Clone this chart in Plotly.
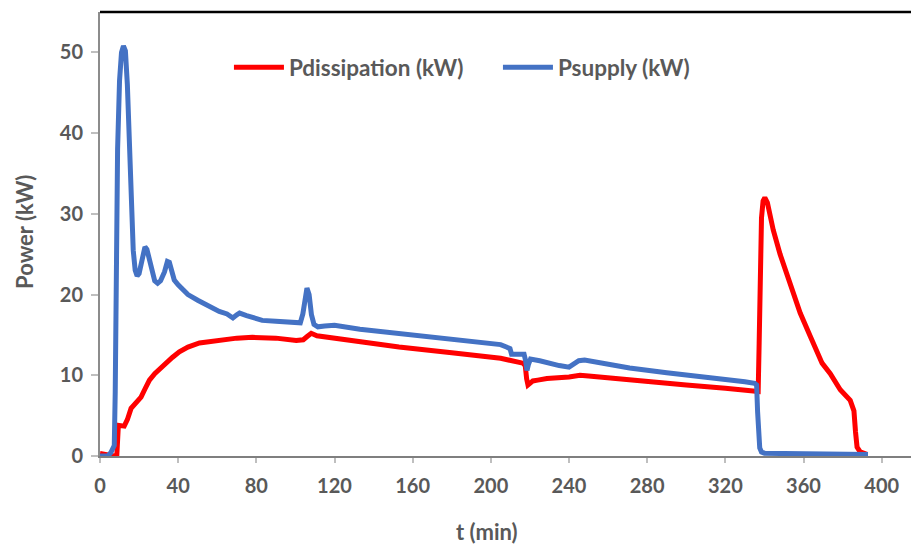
import plotly.graph_objects as go

# Psupply (kW) vs t (min)
t_supply = [0, 4, 5.5, 6.5, 7.3, 7.8, 8.3, 9, 10, 11, 12, 13, 14, 15, 16, 17, 18, 19, 20, 21, 22, 23,
            24, 25, 26, 27, 28, 29.5, 31, 33, 34.5, 35.5, 36.5, 38, 40, 45, 50, 55, 61, 65, 68, 70,
            71.4, 75, 83, 90, 101, 102.5, 103.8, 105, 105.9, 107, 108.2, 109.5, 111.5, 115, 120, 133,
            153, 179, 195, 205, 208, 209.8, 210.6, 215, 217, 217.8, 218.5, 219.3, 220.3, 225, 229,
            235, 240, 242, 245, 248, 255, 271, 290, 310, 330, 335, 336, 336.5, 337, 337.6, 338.5,
            340, 350, 360, 370, 380, 390, 393]
p_supply = [0, 0, 0.4, 1.1, 1.3, 8, 25, 38, 46.5, 50, 50.8, 50.2, 46, 39, 31, 25.5, 23, 22.3, 22.6, 24, 25.4, 25.9,
            25.6, 24.6, 23.3, 22.3, 21.7, 21.4, 21.7, 22.8, 24.1, 24.0, 22.9, 21.8, 21.2, 20.0, 19.3, 18.7, 17.9, 17.6, 17.1, 17.5,
            17.7, 17.4, 16.8, 16.7, 16.4, 16.5, 17.6, 19.8, 20.8, 20.0, 17.5, 16.3, 16.0, 16.1, 16.2, 15.7,
            15.2, 14.6, 14.1, 13.8, 13.5, 13.3, 12.6, 12.5, 12.6, 11.8, 10.6, 11.4, 12.0, 11.8, 11.5,
            11.2, 11.0, 11.3, 11.8, 11.9, 11.6, 10.9, 10.3, 9.8, 9.2, 9.0, 8.8, 5.5, 2.2, 1.0, 0.5,
            0.35, 0.3, 0.3, 0.2, 0.3, 0.3, 0.2]

# Pdissipation (kW) vs t (min)
t_diss = [0, 3, 5, 7, 8.6, 9.0, 9.4, 12.4, 14, 15.9, 18.4, 21, 23, 25.3, 28, 30.5, 33.8, 37, 40.6, 45, 50.9,
          56, 61, 70, 78, 90, 100.4, 104, 106, 108.1, 111, 120, 133, 153, 180, 195, 205, 216.4, 217.6,
          218.3, 219, 220, 221.5, 224, 228.7, 240, 245.6, 250, 271, 300, 320, 335, 336.8, 337.3, 337.8,
          338.5, 339.3, 340.2, 341.5, 343, 344.5, 348, 352.4, 355, 358.3, 363.5, 369.5, 373.7, 378.8,
          383.9, 385.8, 386.6, 387.4, 389, 391, 392.5]
p_diss = [0.3, 0.2, 0.05, 0, 0.1, 2.5, 3.8, 3.7, 4.5, 5.9, 6.5, 7.3, 8.3, 9.4, 10.2, 10.8, 11.5, 12.2, 12.9, 13.5, 14.0,
          14.2, 14.4, 14.6, 14.7, 14.6, 14.3, 14.4, 14.8, 15.2, 14.9, 14.6, 14.2, 13.5, 12.8, 12.4, 12.1, 11.5, 11.2,
          9.6, 8.8, 9.0, 9.3, 9.4, 9.6, 9.8, 10.0, 9.9, 9.4, 8.8, 8.4, 8.0, 8.0, 14, 24,
          29.5, 31.6, 32.0, 31.4, 29.8, 28.0, 25.0, 21.8, 20.0, 17.7, 14.8, 11.5, 10.2, 8.2,
          6.9, 5.6, 3.0, 1.1, 0.5, 0.3, 0.2]

x_ticks = [0, 40, 80, 120, 160, 200, 240, 280, 320, 360, 400]
y_ticks = [0, 10, 20, 30, 40, 50]

FONT = "Lato"
GREY = "#595959"

fig = go.Figure()
fig.add_trace(go.Scatter(x=t_diss, y=p_diss, mode="lines", name="Pdissipation (kW)",
                         line=dict(color="#FF0000", width=5)))
fig.add_trace(go.Scatter(x=t_supply, y=p_supply, mode="lines", name="Psupply (kW)",
                         line=dict(color="#4472C4", width=5)))

fig.update_layout(
    width=911, height=544,
    margin=dict(l=100, r=0, t=12, b=88),
    paper_bgcolor="white", plot_bgcolor="white",
    font=dict(family=FONT, color=GREY, size=20),
    showlegend=True,
    legend=dict(orientation="h", x=0.159, y=0.875, xanchor="left", yanchor="middle",
                font=dict(family=FONT, size=22.5, color=GREY, weight="bold"),
                bgcolor="rgba(0,0,0,0)", entrywidth=204, entrywidthmode="pixels",
                itemwidth=50),
    xaxis=dict(range=[0, 415], tickvals=x_ticks, showgrid=False, zeroline=False,
               showline=True, linecolor="#7f7f7f", linewidth=2,
               ticks="outside", ticklen=5, tickcolor="#bfbfbf", tickwidth=2,
               tickfont=dict(family=FONT, size=20, color=GREY, weight="bold"),
               ticklabelstandoff=6),
    yaxis=dict(range=[0, 55], tickvals=y_ticks, showgrid=False, zeroline=False,
               showline=True, linecolor="#8c8c8c", linewidth=2,
               ticks="outside", ticklen=7, tickcolor="#bfbfbf", tickwidth=2,
               tickfont=dict(family=FONT, size=20, color=GREY, weight="bold"),
               ticklabelstandoff=4),
    shapes=[dict(type="line", xref="paper", yref="paper", x0=0, x1=1, y0=1, y1=1,
                 line=dict(color="black", width=2.5))],
    annotations=[
        dict(text="t (min)", xref="paper", yref="paper", x=(487 - 100) / 811, y=(455.7 - 531) / 443.7,
             xanchor="center", yanchor="middle", showarrow=False,
             font=dict(family=FONT, size=22, color=GREY, weight="bold")),
        dict(text="Power (kW)", xref="paper", yref="paper", x=-0.094, y=(455.7 - 232) / 443.7,
             xanchor="center", yanchor="middle", textangle=-90, showarrow=False,
             font=dict(family=FONT, size=22, color=GREY, weight="bold")),
    ],
)

fig.write_html("out.html")
